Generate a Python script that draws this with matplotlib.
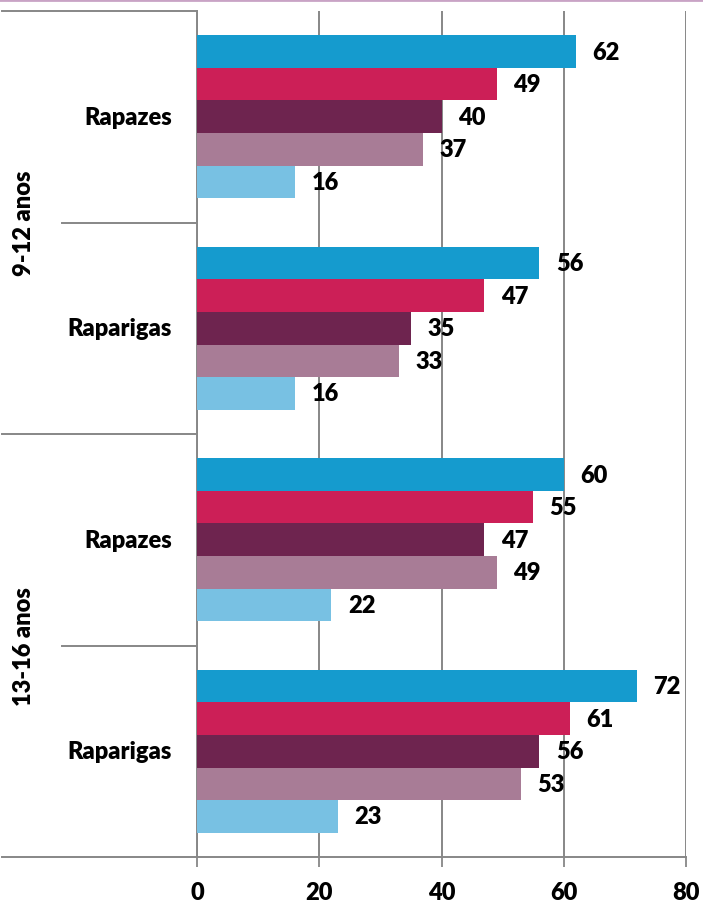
import matplotlib
matplotlib.use("Agg")
import matplotlib.pyplot as plt
import matplotlib.transforms as mtransforms
from matplotlib.lines import Line2D

# data
groups = ["Rapazes", "Raparigas", "Rapazes", "Raparigas"]
ages = ["9-12 anos", "13-16 anos"]
s1 = [62, 56, 60, 72]
s2 = [49, 47, 55, 61]
s3 = [40, 35, 47, 56]
s4 = [37, 33, 49, 53]
s5 = [16, 16, 22, 23]
series = [s1, s2, s3, s4, s5]
colors = ["#159BCE", "#CC1F57", "#6E244F", "#A87C96", "#78C1E3"]
xticks = [0, 20, 40, 60, 80]

plt.rcParams['font.family'] = ['Lato', 'DejaVu Sans']
grid_c = "#878787"
fw = 'heavy'

fig = plt.figure(figsize=(7.03, 9.03), dpi=100)
ax = fig.add_axes([197/703, 1-858/903, 489/703, 846/903])

bh = 0.154
for j, vals in enumerate(series):
    ys = [i + 0.5 + (j - 2) * bh for i in range(len(groups))]
    ax.barh(ys, vals, height=bh, color=colors[j], zorder=3)
    for y, v in zip(ys, vals):
        ax.text(v + 2.7, y, str(v), va='center', ha='left',
                fontsize=17, fontweight=fw, zorder=4)

ax.set_xlim(0, 80)
ax.set_ylim(len(groups), 0)
ax.set_xticks(xticks)
ax.set_xticklabels([str(t) for t in xticks], fontsize=17, fontweight=fw)
ax.tick_params(axis='x', length=7, width=1.3, color=grid_c, pad=10)
ax.set_yticks([])
ax.grid(axis='x', color=grid_c, linewidth=1.4, zorder=0)
for s in ['top', 'right']:
    ax.spines[s].set_visible(False)
for s in ['left', 'bottom']:
    ax.spines[s].set_color(grid_c)
    ax.spines[s].set_linewidth(1.4)

# category labels and separators on the left
tr = mtransforms.blended_transform_factory(ax.transAxes, ax.transData)
for i, g in enumerate(groups):
    ax.text(-0.051, i + 0.5, g, transform=tr, ha='right', va='center',
            fontsize=17, fontweight=fw)
for k in range(len(groups) + 1):
    x0 = -0.399 if k % 2 == 0 else -0.276
    ax.add_line(Line2D([x0, 0], [k, k], transform=tr, color=grid_c,
                       linewidth=1.4, clip_on=False))
for a, age in enumerate(ages):
    ax.text(-0.354, 2 * a + 1, age, transform=tr, rotation=90, ha='center',
            va='center', fontsize=17, fontweight=fw)

# thin pink line at the top edge
fig.add_artist(Line2D([0, 1], [0.9985, 0.9985], transform=fig.transFigure,
                      color="#C9A3C5", linewidth=2))

fig.savefig("out.png", dpi=100)
